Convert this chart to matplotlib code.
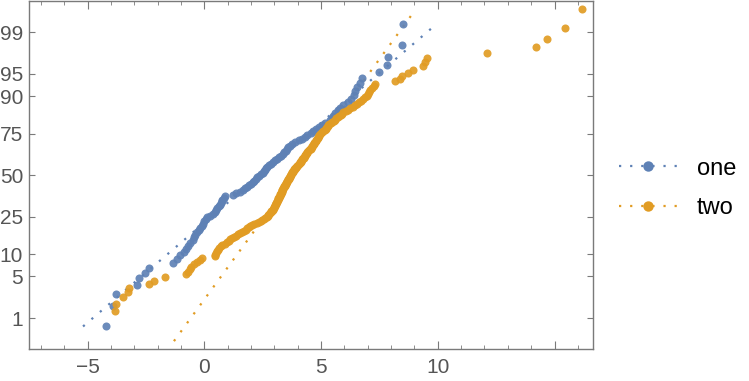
import numpy as np
import matplotlib
matplotlib.use("Agg")
from matplotlib import pyplot as plt
from statistics import NormalDist

# sorted sample values
one = [-4.21, -3.90, -3.80, -2.90, -2.81, -2.55, -2.38, -1.35, -1.16, -1.04,
       -0.87, -0.80, -0.70, -0.62, -0.50, -0.46, -0.40, -0.30, -0.24, -0.17,
       -0.10, -0.04, 0.00, 0.06, 0.12, 0.25, 0.39, 0.45, 0.50, 0.56,
       0.62, 0.66, 0.70, 0.74, 0.78, 0.84, 0.90, 1.25, 1.38, 1.52,
       1.64, 1.76, 1.84, 1.90, 1.98, 2.08, 2.15, 2.20, 2.25, 2.33,
       2.42, 2.50, 2.56, 2.60, 2.64, 2.70, 2.78, 2.87, 2.96, 3.04,
       3.12, 3.20, 3.28, 3.36, 3.42, 3.48, 3.53, 3.60, 3.67, 3.75,
       3.88, 4.05, 4.18, 4.30, 4.42, 4.55, 4.66, 4.78, 4.92, 5.05,
       5.18, 5.38, 5.45, 5.53, 5.60, 5.72, 5.81, 5.95, 6.15, 6.30,
       6.40, 6.45, 6.55, 6.67, 6.74, 7.47, 7.81, 7.87, 8.45, 8.50]

two = [-9.80, -8.30, -3.82, -3.79, -3.47, -3.28, -3.24, -2.38, -2.17, -1.70,
       -0.80, -0.68, -0.60, -0.55, -0.46, -0.30, -0.18, -0.10, 0.45, 0.48,
       0.51, 0.54, 0.60, 0.65, 0.72, 0.78, 0.88, 0.98, 1.04, 1.10,
       1.20, 1.28, 1.37, 1.45, 1.52, 1.60, 1.70, 1.78, 1.84, 1.90,
       1.97, 2.05, 2.15, 2.25, 2.33, 2.42, 2.48, 2.55, 2.62, 2.68,
       2.71, 2.75, 2.78, 2.82, 2.85, 2.87, 2.90, 2.93, 2.96, 2.98,
       3.00, 3.02, 3.04, 3.06, 3.08, 3.09, 3.11, 3.12, 3.14, 3.15,
       3.17, 3.19, 3.21, 3.23, 3.25, 3.26, 3.28, 3.29, 3.31, 3.32,
       3.34, 3.35, 3.37, 3.38, 3.40, 3.42, 3.44, 3.46, 3.48, 3.50,
       3.52, 3.54, 3.56, 3.58, 3.60, 3.62, 3.63, 3.65, 3.66, 3.68,
       3.70, 3.72, 3.74, 3.76, 3.78, 3.80, 3.83, 3.85, 3.88, 3.90,
       3.93, 3.96, 3.99, 4.02, 4.05, 4.08, 4.10, 4.13, 4.15, 4.18,
       4.20, 4.23, 4.25, 4.28, 4.30, 4.32, 4.35, 4.37, 4.40, 4.42,
       4.45, 4.48, 4.52, 4.55, 4.58, 4.60, 4.63, 4.65, 4.68, 4.70,
       4.72, 4.75, 4.77, 4.80, 4.82, 4.85, 4.87, 4.90, 4.92, 4.95,
       5.00, 5.05, 5.10, 5.15, 5.20, 5.23, 5.26, 5.29, 5.32, 5.35,
       5.42, 5.48, 5.55, 5.60, 5.66, 5.72, 5.78, 5.84, 5.90, 5.95,
       6.05, 6.15, 6.25, 6.35, 6.45, 6.55, 6.63, 6.72, 6.80, 6.88,
       6.95, 7.00, 7.05, 7.10, 7.18, 7.25, 7.33, 8.15, 8.40, 8.47,
       8.71, 8.93, 9.35, 9.45, 9.54, 12.09, 14.19, 14.66, 15.43, 16.16]

labels = ["one", "two"]
colors = ["#5E81B5", "#E19C24"]
# reference normal lines (mean, sd)
ref_mean = [2.38, 3.88]
ref_sd = [3.08, 1.92]

prob_ticks = [1, 5, 10, 25, 50, 75, 90, 95, 99]

nd = NormalDist()


def positions(n):
    return np.array([nd.inv_cdf((i - 0.3) / (n + 0.4)) for i in range(1, n + 1)])


plt.rcParams["font.family"] = ["Liberation Sans", "DejaVu Sans"]

fig = plt.figure(figsize=(7.49, 3.81), dpi=100)
ax = fig.add_axes([0.0383, 0.0832, 0.7538, 0.914])

for data, lab, col, mu, sd in zip([one, two], labels, colors, ref_mean, ref_sd):
    z = positions(len(data))
    zz = np.linspace(z[0], z[-1], 50)
    ax.plot(mu + sd * zz, zz, color=col, lw=1.6, linestyle=(0, (1.0, 4.0)),
            zorder=2)
    ax.plot(data, z, "o", color=col, ms=5.8, mew=0, alpha=0.92, zorder=3)
    ax.plot([], [], color=col, lw=1.6, linestyle=(0, (1.0, 4.0)),
            marker="o", ms=7.5, mew=0, label=lab)

ax.set_xlim(-7.52, 16.66)
ax.set_ylim(-2.83, 2.83)
ax.set_yticks([nd.inv_cdf(p / 100) for p in prob_ticks])
ax.set_yticklabels([str(p) for p in prob_ticks])
ax.set_xticks([-5, 0, 5, 10, 15])
ax.set_xticklabels(["\u22125", "0", "5", "10", ""])
ax.set_xticks(np.arange(-7, 17, 1), minor=True)

for s in ax.spines.values():
    s.set_color("#7a7a7a")
    s.set_linewidth(1.0)
ax.tick_params(which="both", direction="in", top=True, right=True,
               colors="#7a7a7a", labelcolor="#555555", labelsize=15)
ax.tick_params(axis="x", which="major", length=6, pad=6)
ax.tick_params(axis="x", which="minor", length=3)
ax.tick_params(axis="y", which="major", length=4, pad=4)

fig.legend(loc="center left", bbox_to_anchor=(0.826, 0.505), frameon=False,
           fontsize=17, handlelength=2.5, handletextpad=0.8, labelspacing=0.75,
           borderpad=0, borderaxespad=0, numpoints=1)

fig.savefig("out.png", dpi=100)
